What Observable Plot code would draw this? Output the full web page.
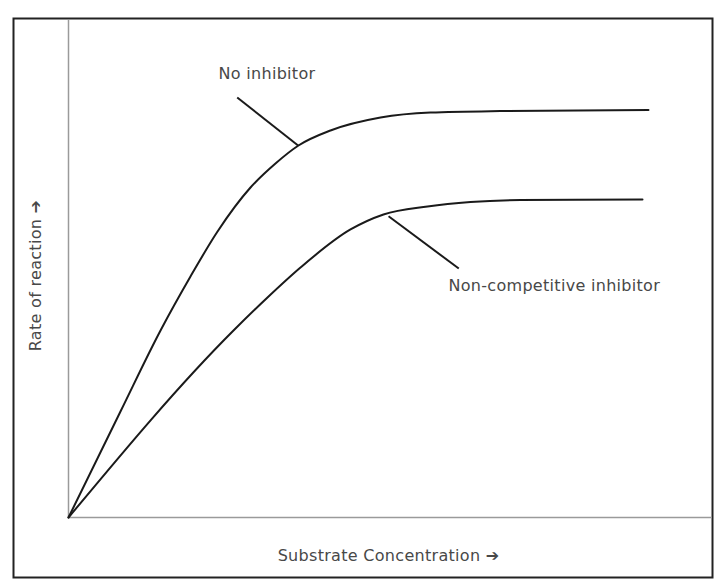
<!DOCTYPE html>
<html>
<head>
<meta charset="utf-8">
<script src="https://cdn.jsdelivr.net/npm/d3@7"></script>
<script src="https://cdn.jsdelivr.net/npm/@observablehq/plot@0.6"></script>
<style>
  html, body { margin: 0; padding: 0; background: #fff; }
  #chart svg { display: block; }
</style>
</head>
<body>
<div id="chart"></div>
<script>
// Substrate concentration (x) and rate of reaction (y), arbitrary units 0–100
const noInhibitorX = [0, 8.07, 14.29, 18.94, 23.14, 28.26, 32.14, 35.71, 40.68, 48.45, 56.21, 67.08, 90.06];
const noInhibitorY = [0, 21.33, 37.63, 48.49, 57.55, 66.40, 71.23, 74.85, 77.87, 80.48, 81.49, 81.79, 81.99];
const nonCompX = [0, 25.62, 30.90, 36.02, 43.79, 48.91, 55.75, 62.42, 70.19, 89.13];
const nonCompY = [0, 37.63, 44.27, 50.30, 57.95, 60.97, 62.58, 63.48, 63.88, 63.98];

// Annotation labels and their leader lines (data units)
const labelText = ["No inhibitor", "Non-competitive inhibitor"];
const labelX = [23.3, 59.0];
const labelY = [89.3, 46.7];
const leaderX1 = [26.2, 49.7];
const leaderY1 = [84.5, 60.6];
const leaderX2 = [35.7, 60.6];
const leaderY2 = [74.8, 50.1];

const xLabel = "Substrate Concentration \u2794";
const yLabel = "Rate of reaction \u2794";
const xLabelPos = [49.7, -7.8];
const yLabelPos = [-5.1, 48.7];

const series = [
  ...noInhibitorX.map((x, i) => ({series: "No inhibitor", x, y: noInhibitorY[i]})),
  ...nonCompX.map((x, i) => ({series: "Non-competitive inhibitor", x, y: nonCompY[i]}))
];
const labels = labelText.map((t, i) => ({t, x: labelX[i], y: labelY[i]}));
const leaders = labelText.map((t, i) => ({x1: leaderX1[i], y1: leaderY1[i], x2: leaderX2[i], y2: leaderY2[i]}));

const font = "DejaVu Sans, sans-serif";

const chart = Plot.plot({
  width: 715,
  height: 586,
  marginLeft: 68,
  marginRight: 3,
  marginTop: 20,
  marginBottom: 69,
  style: {background: "#fff", fontFamily: font, overflow: "visible", letterSpacing: "0.3px"},
  x: {domain: [0, 100], axis: null},
  y: {domain: [0, 100], axis: null},
  marks: [
    Plot.frame({stroke: "#222", strokeWidth: 2, insetLeft: -55, insetRight: 0, insetTop: -2, insetBottom: -60}),
    Plot.ruleX([0], {stroke: "#9a9a9a", strokeWidth: 1.5}),
    Plot.ruleY([0], {stroke: "#9a9a9a", strokeWidth: 1.5}),
    Plot.line(series, {x: "x", y: "y", z: "series", curve: "monotone-x", stroke: "#1a1a1a", strokeWidth: 2}),
    Plot.link(leaders, {x1: "x1", y1: "y1", x2: "x2", y2: "y2", stroke: "#1a1a1a", strokeWidth: 2}),
    Plot.text(labels, {x: "x", y: "y", text: "t", textAnchor: "start", fontSize: 16, fill: "#484848"}),
    Plot.text([xLabel], {x: () => xLabelPos[0], y: () => xLabelPos[1], fontSize: 16, fill: "#484848"}),
    Plot.text([yLabel], {x: () => yLabelPos[0], y: () => yLabelPos[1], rotate: -90, fontSize: 16, fill: "#484848"})
  ]
});
document.getElementById("chart").appendChild(chart);
</script>
</body>
</html>
